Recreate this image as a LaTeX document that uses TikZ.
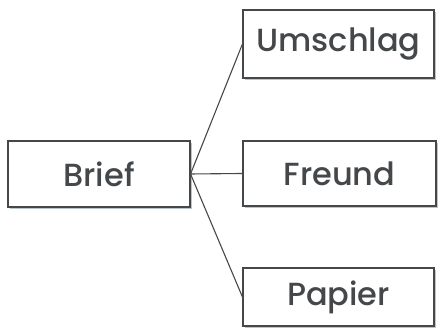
\documentclass[tikz,border=0pt]{standalone}
\usepackage{fontspec}
\setmainfont{Poppins Medium}
\usepackage{tikz}
\usetikzlibrary{shadows}
\definecolor{ink}{HTML}{45484A}
\definecolor{shade}{HTML}{A9B8C2}
\tikzset{every path/.style={line width=1.1pt}}
\tikzset{wordbox/.style={draw=ink,line width=1.1pt,text=ink,fill=white,font=\fontsize{32}{32}\selectfont,
  drop shadow={shadow xshift=2pt,shadow yshift=-2pt,fill=shade,opacity=.8}}}

\begin{document}
\begin{tikzpicture}[x=1pt,y=1pt]
\useasboundingbox (0,0) rectangle (440,336);
\node[wordbox,minimum width=182pt,minimum height=66pt] (brief) at (99,162) {Brief};
\node[wordbox,minimum width=191pt,minimum height=68pt] (umschlag) at (338.5,292) {Umschlag};
\node[wordbox,minimum width=193pt,minimum height=65pt] (freund) at (339.5,162.5) {Freund};
\node[wordbox,minimum width=191pt,minimum height=58pt] (papier) at (338.5,39) {Papier};

\draw[ink,line width=1.1pt] (brief.east) -- (umschlag.west);
\draw[ink,line width=1.1pt] (brief.east) -- (freund.west);
\draw[ink,line width=1.1pt] (brief.east) -- (papier.west);
\end{tikzpicture}
\end{document}
